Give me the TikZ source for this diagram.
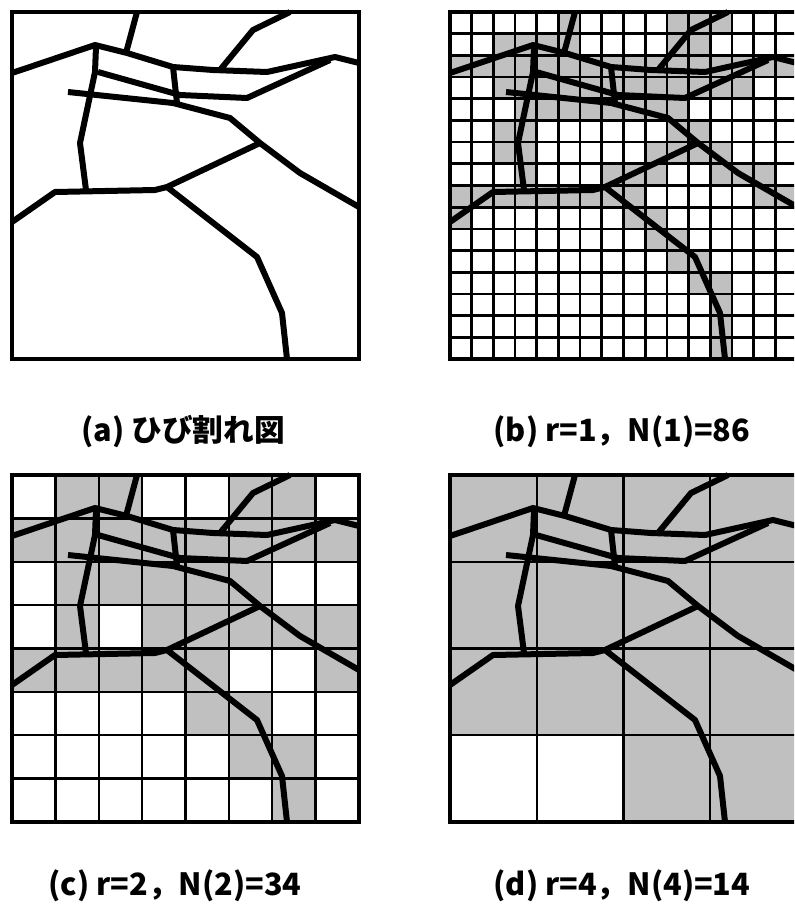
\documentclass[tikz,border=0pt]{standalone}
\usepackage{fontspec}
\setmainfont{Noto Sans CJK JP}
\definecolor{cellgray}{RGB}{192,192,192}
\tikzset{
  crack/.style={line width=4.5pt, line join=round, black},
  frame/.style={line width=3.4pt, black},
  gridb/.style={line width=2pt, black},
  gridc/.style={line width=1.8pt, black},
  gridd/.style={line width=1.6pt, black},
  label/.style={font=\fontsize{23}{27}\selectfont\bfseries, inner sep=0pt},
}
\newcommand{\crackset}{%
  \draw[crack] (125,0) -- (114,41);
  \draw[crack] (278,0) -- (241,18) -- (208,58);
  \draw[crack] (0,61) -- (83,33) -- (115,41) -- (161,55) -- (201,58) -- (255,60) -- (323,45) -- (347,51);
  \draw[crack] (86,60) -- (168,83) -- (235,86) -- (318,48);
  \draw[crack] (56,80) -- (161,91) -- (218,106) -- (248,131) -- (288,161) -- (347,195);
  \draw[crack] (84,35) -- (83,60) -- (68,131) -- (74,178);
  \draw[crack] (161,55) -- (165,91);
  \draw[crack] (0,210) -- (43,180) -- (143,178) -- (155,175) -- (248,131);
  \draw[crack] (155,175) -- (245,245) -- (270,301) -- (275,347);
}
\newcommand{\gridlines}[2]{%
  \foreach \k in {1,...,#1} {
    \draw[#2] ({\k*347/(#1+1)},0) -- ({\k*347/(#1+1)},347);
    \draw[#2] (0,{\k*347/(#1+1)}) -- (347,{\k*347/(#1+1)});
  }
}
\begin{document}
\begin{tikzpicture}[x=0.75pt,y=-0.75pt]
\path[use as bounding box, fill=white] (0,0) rectangle (794,907);
\begin{scope}
\clip (0,0) rectangle (794,907);
% (a)
\begin{scope}[shift={(12,12)}]
  \crackset
  \draw[frame] (0,0) rectangle (347,347);
\end{scope}
% (b) 16x16
\begin{scope}[shift={(450,12)}]
  \foreach \c/\r in {5/0,10/0,11/0,12/0,
    2/1,3/1,4/1,5/1,10/1,11/1,
    0/2,1/2,2/2,3/2,4/2,5/2,6/2,7/2,8/2,9/2,10/2,11/2,12/2,13/2,14/2,15/2,
    2/3,3/3,4/3,5/3,6/3,7/3,8/3,9/3,10/3,11/3,12/3,13/3,
    3/4,4/4,5/4,6/4,7/4,8/4,9/4,10/4,
    2/5,3/5,10/5,11/5,
    2/6,3/6,9/6,10/6,11/6,12/6,
    3/7,7/7,8/7,9/7,12/7,13/7,14/7,
    0/8,1/8,2/8,3/8,4/8,5/8,6/8,7/8,8/8,14/8,15/8,
    0/9,8/9,9/9,9/10,10/10,10/11,11/11,11/12,12/12,12/13,12/14,12/15}
    \fill[cellgray] ({\c*21.6875},{\r*21.6875}) rectangle ++(21.6875,21.6875);
  \gridlines{15}{gridb}
  \crackset
  \draw[frame] (0,0) rectangle (347,347);
\end{scope}
% (c) 8x8
\begin{scope}[shift={(12,475)}]
  \foreach \c/\r in {1/0,2/0,5/0,6/0,
    0/1,1/1,2/1,3/1,4/1,5/1,6/1,7/1,
    1/2,2/2,3/2,4/2,5/2,
    1/3,3/3,4/3,5/3,6/3,7/3,
    0/4,1/4,2/4,3/4,4/4,7/4,
    4/5,5/5,5/6,6/6,6/7}
    \fill[cellgray] ({\c*43.375},{\r*43.375}) rectangle ++(43.375,43.375);
  \gridlines{7}{gridc}
  \crackset
  \draw[frame] (0,0) rectangle (347,347);
\end{scope}
% (d) 4x4
\begin{scope}[shift={(450,475)}]
  \fill[cellgray] (0,0) rectangle (347,260.25);
  \fill[cellgray] (173.5,260.25) rectangle (347,347);
  \gridlines{3}{gridd}
  \crackset
  \draw[frame] (0,0) rectangle (347,347);
\end{scope}
\end{scope}
\node[label] (la) at (183,432) {(a) ひび割れ図};
\node[label] (lb) at (622,432) {(b) r=1，N(1)=86};
\node[label] (lc) at (175,886) {(c) r=2，N(2)=34};
\node[label] (ld) at (622,886) {(d) r=4，N(4)=14};
\end{tikzpicture}
\end{document}
